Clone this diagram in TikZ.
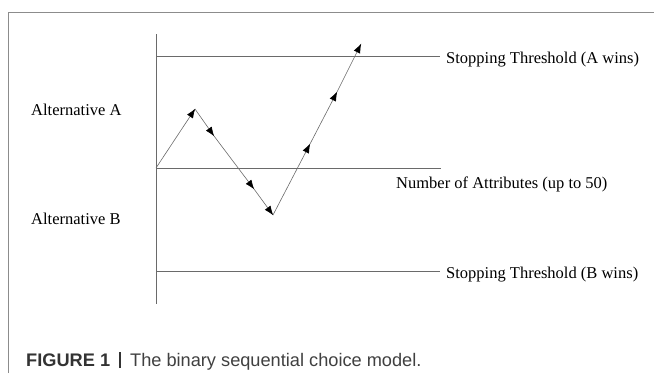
\documentclass[tikz,border=0pt]{standalone}
\usepackage{fontspec}
\setmainfont{Liberation Serif}
\newfontfamily\capfont{Liberation Sans}
\usetikzlibrary{arrows.meta}
\definecolor{framegray}{HTML}{8C8C8C}
\definecolor{linegray}{HTML}{6A6A6A}
\definecolor{captext}{HTML}{333333}
\tikzset{
  axisline/.style={draw=linegray, line width=0.7pt},
  walk/.style={draw=linegray, line width=0.6pt, -{Latex[length=9.5pt,width=7pt,color=black]}, shorten >=-0.5pt},
  lbl/.style={inner sep=0pt, anchor=base west, font=\fontsize{16.5}{18}\selectfont, text=black},
  caplbl/.style={inner sep=0pt, anchor=base west, text=captext}
}
\begin{document}
\begin{tikzpicture}[x=1pt,y=-1pt]
\useasboundingbox (0,0) rectangle (654,373);
% frame
\draw[draw=framegray, line width=1pt] (8,373) -- (8,12) -- (654,12);
% axes
\coordinate (vtop) at (156,34);
\coordinate (vbot) at (156,304);
\draw[axisline] (vtop) -- (vbot);
\coordinate (tA1) at (156,56);  \coordinate (tA2) at (440,56);
\coordinate (m1) at (156,168);  \coordinate (m2) at (441,168);
\coordinate (tB1) at (156,271); \coordinate (tB2) at (440,271);
\draw[axisline] (tA1) -- (tA2);
\draw[axisline] (m1) -- (m2);
\draw[axisline] (tB1) -- (tB2);
% labels
\node[lbl] (la) at (31,115) {Alternative A};
\node[lbl] (lb) at (31,224) {Alternative B};
\node[lbl] (lta) at (446,63) {Stopping Threshold (A wins)};
\node[lbl] (ltb) at (446,278) {Stopping Threshold (B wins)};
\node[lbl] (lnum) at (396,188) {Number of Attributes (up to 50)};
% walk
\coordinate (p0) at (156,168);
\coordinate (p1) at (195,109);
\coordinate (p2) at (214,136);
\coordinate (p3) at (254,189);
\coordinate (p4) at (273,215);
\coordinate (p5) at (310,144);
\coordinate (p6) at (337,92);
\coordinate (p7) at (361,44);
\draw[walk] (p0) -- (p1);
\draw[walk] (p1) -- (p2);
\draw[walk] (p2) -- (p3);
\draw[walk] (p3) -- (p4);
\draw[walk] (p4) -- (p5);
\draw[walk] (p5) -- (p6);
\draw[walk] (p6) -- (p7);
% caption
\node[caplbl] (cap) at (26,366) {\capfont\fontsize{18.2}{20}\selectfont\textbf{FIGURE 1}\hspace{0.5em}{\color{captext}\rule[-2pt]{1.8pt}{16pt}}\hspace{0.5em}{\color{black!75}The binary sequential choice model.}};
\end{tikzpicture}
\end{document}
